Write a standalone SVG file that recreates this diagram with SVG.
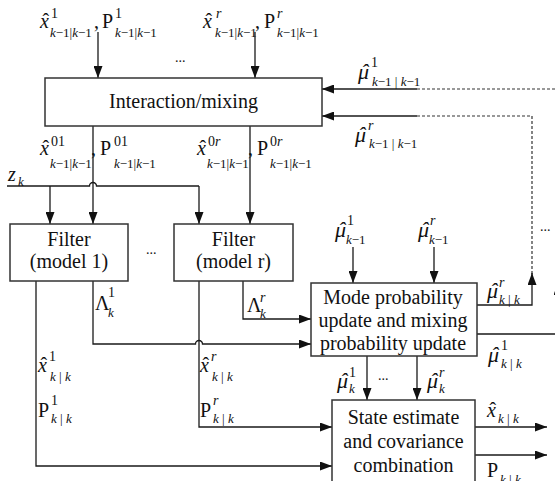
<svg xmlns="http://www.w3.org/2000/svg" width="555" height="481" viewBox="0 0 555 481">
<style>
.box{fill:#fff;stroke:#333;stroke-width:1.5}
.ln{fill:none;stroke:#1a1a1a;stroke-width:1.3}
.arr{marker-end:url(#ah)}
.dash{fill:none;stroke:#333;stroke-width:1.2;stroke-dasharray:3 2}
text{font-family:"Liberation Serif","Times New Roman",serif;fill:#111}
.bt{font-size:20px;text-anchor:middle}
.m{font-size:20px}
.mu{font-size:22px;font-style:italic}
.i{font-style:italic}
.s{font-size:13px}
.d{font-size:14px}
</style>
<defs>
<marker id="ah" markerUnits="userSpaceOnUse" markerWidth="12" markerHeight="9" refX="12" refY="4.5" orient="auto">
<path d="M0,0 L12,4.5 L0,9 z" fill="#111"/>
</marker>
</defs>

<g id="connectors">
<path class="ln arr" d="M98,32 V78"/>
<path class="ln arr" d="M255,32 V78"/>
<path class="dash" d="M417,89 H558"/>
<path class="ln arr" d="M417,89 H322"/>
<path class="dash" d="M417,116 H532 V280"/>
<path class="ln arr" d="M417,116 H322"/>
<path class="ln arr" d="M93,126 V224"/>
<path class="ln arr" d="M250,126 V224"/>
<path class="ln" d="M7,186 H89.5 A3.5,3.5 0 0 1 96.5,186 H199"/>
<path class="ln arr" d="M199,186 V224"/>
<path class="ln arr" d="M50,186 V224"/>
<path class="ln arr" d="M36,281 V466 H332"/>
<path class="ln arr" d="M93,281 V344 H195.5 A3.5,3.5 0 0 1 202.5,344 H311"/>
<path class="ln arr" d="M199,281 V427 H332"/>
<path class="ln arr" d="M243,281 V319 H311"/>
<path class="ln arr" d="M353,247 V283"/>
<path class="ln arr" d="M434,247 V283"/>
<path class="ln arr" d="M477,305 H532 V273"/>
<path class="ln arr" d="M477,334 H558 V283"/>
<path class="ln arr" d="M367,356 V400"/>
<path class="ln arr" d="M417,356 V400"/>
<path class="ln arr" d="M475,427 H547"/>
<path class="ln arr" d="M475,455 H547"/>
</g>

<g id="interaction">
<rect class="box" x="45" y="78" width="277" height="48"/>
<text class="bt" x="183.5" y="108">Interaction/mixing</text>
</g>
<g id="filter1">
<rect class="box" x="10" y="224" width="118" height="57"/>
<text class="bt" x="69" y="246">Filter</text>
<text class="bt" x="69" y="268">(model 1)</text>
</g>
<g id="filterr">
<rect class="box" x="174" y="224" width="119" height="57"/>
<text class="bt" x="233.5" y="246">Filter</text>
<text class="bt" x="233.5" y="268">(model r)</text>
</g>
<g id="mode">
<rect class="box" x="311" y="283" width="166" height="73"/>
<text class="bt" x="393" y="304">Mode probability</text>
<text class="bt" x="393" y="327">update and mixing</text>
<text class="bt" x="393" y="350">probability update</text>
</g>
<g id="combine">
<rect class="box" x="332" y="400" width="143" height="90"/>
<text class="bt" x="403.5" y="424">State estimate</text>
<text class="bt" x="403.5" y="448">and covariance</text>
<text class="bt" x="403.5" y="472">combination</text>
</g>

<g id="labels">
<!-- top left -->
<text class="m" x="42.5" y="28">ˆ</text>
<text class="m i" x="40" y="28">x</text>
<text class="d" x="51" y="18">1</text>
<text class="s" x="50" y="37"><tspan class="i">k</tspan>−1|<tspan class="i">k</tspan>−1</text>
<text class="m" x="94" y="28">,</text>
<text class="m" x="102" y="28">P</text>
<text class="d" x="115" y="18">1</text>
<text class="s" x="115" y="37"><tspan class="i">k</tspan>−1|<tspan class="i">k</tspan>−1</text>
<!-- top right -->
<text class="m" x="205.5" y="28">ˆ</text>
<text class="m i" x="203" y="28">x</text>
<text class="d i" x="216" y="18">r</text>
<text class="s" x="215" y="37"><tspan class="i">k</tspan>−1|<tspan class="i">k</tspan>−1</text>
<text class="m" x="255" y="28">,</text>
<text class="m" x="264" y="28">P</text>
<text class="d i" x="277" y="18">r</text>
<text class="s" x="277" y="37"><tspan class="i">k</tspan>−1|<tspan class="i">k</tspan>−1</text>
<text class="d" x="175" y="62">...</text>
<!-- mixed estimates -->
<text class="m" x="42.5" y="155">ˆ</text>
<text class="m i" x="40" y="155">x</text>
<text class="d" x="51" y="146">01</text>
<text class="s" x="50" y="168"><tspan class="i">k</tspan>−1|<tspan class="i">k</tspan>−1</text>
<text class="m" x="91" y="155">,</text>
<text class="m" x="100" y="155">P</text>
<text class="d" x="114" y="146">01</text>
<text class="s" x="114" y="168"><tspan class="i">k</tspan>−1|<tspan class="i">k</tspan>−1</text>
<text class="m" x="199.5" y="155">ˆ</text>
<text class="m i" x="197" y="155">x</text>
<text class="d" x="208" y="146">0<tspan class="i">r</tspan></text>
<text class="s" x="207" y="168"><tspan class="i">k</tspan>−1|<tspan class="i">k</tspan>−1</text>
<text class="m" x="248" y="155">,</text>
<text class="m" x="257" y="155">P</text>
<text class="d" x="270" y="146">0<tspan class="i">r</tspan></text>
<text class="s" x="270" y="168"><tspan class="i">k</tspan>−1|<tspan class="i">k</tspan>−1</text>
<!-- z_k -->
<text class="m i" x="8" y="181">z</text>
<text class="s i" x="18" y="186">k</text>
<text class="d" x="146" y="254">...</text>
<!-- mu inputs to interaction -->
<text class="mu" x="361" y="79">ˆ</text>
<text class="mu" x="358" y="79">μ</text>
<text class="d" x="371" y="67">1</text>
<text class="s" x="372" y="86"><tspan class="i">k</tspan>−1 | <tspan class="i">k</tspan>−1</text>
<text class="mu" x="358" y="142">ˆ</text>
<text class="mu" x="355" y="142">μ</text>
<text class="d i" x="368" y="130">r</text>
<text class="s" x="369" y="148"><tspan class="i">k</tspan>−1 | <tspan class="i">k</tspan>−1</text>
<!-- mu into mode -->
<text class="mu" x="338" y="237">ˆ</text>
<text class="mu" x="335" y="237">μ</text>
<text class="d" x="347" y="225">1</text>
<text class="s" x="346" y="244"><tspan class="i">k</tspan>−1</text>
<text class="mu" x="421" y="237">ˆ</text>
<text class="mu" x="418" y="237">μ</text>
<text class="d i" x="430" y="225">r</text>
<text class="s" x="429" y="244"><tspan class="i">k</tspan>−1</text>
<!-- Lambda -->
<text class="m" x="95" y="310">Λ</text>
<text class="d" x="108" y="297">1</text>
<text class="s i" x="108" y="317">k</text>
<text class="m" x="247" y="312">Λ</text>
<text class="d i" x="260" y="302">r</text>
<text class="s i" x="260" y="318">k</text>
<!-- filter outputs -->
<text class="m" x="40.5" y="372">ˆ</text>
<text class="m i" x="38" y="372">x</text>
<text class="d" x="49" y="361">1</text>
<text class="s" x="50" y="381"><tspan class="i">k</tspan> | <tspan class="i">k</tspan></text>
<text class="m" x="38" y="417">P</text>
<text class="d" x="51" y="405">1</text>
<text class="s" x="51" y="423"><tspan class="i">k</tspan> | <tspan class="i">k</tspan></text>
<text class="m" x="202.5" y="372">ˆ</text>
<text class="m i" x="200" y="372">x</text>
<text class="d i" x="211" y="361">r</text>
<text class="s" x="212" y="381"><tspan class="i">k</tspan> | <tspan class="i">k</tspan></text>
<text class="m" x="200" y="417">P</text>
<text class="d i" x="213" y="405">r</text>
<text class="s" x="213" y="423"><tspan class="i">k</tspan> | <tspan class="i">k</tspan></text>
<!-- mode outputs -->
<text class="mu" x="490" y="298">ˆ</text>
<text class="mu" x="487" y="298">μ</text>
<text class="d i" x="499" y="287">r</text>
<text class="s" x="499" y="304"><tspan class="i">k</tspan> | <tspan class="i">k</tspan></text>
<text class="mu" x="491" y="362">ˆ</text>
<text class="mu" x="488" y="362">μ</text>
<text class="d" x="501" y="350">1</text>
<text class="s" x="501" y="368"><tspan class="i">k</tspan> | <tspan class="i">k</tspan></text>
<text class="d" x="540" y="231">...</text>
<text class="mu" x="340" y="388">ˆ</text>
<text class="mu" x="337" y="388">μ</text>
<text class="d" x="349" y="377">1</text>
<text class="s i" x="349" y="393">k</text>
<text class="d" x="378" y="380">...</text>
<text class="mu" x="430" y="388">ˆ</text>
<text class="mu" x="427" y="388">μ</text>
<text class="d i" x="439" y="377">r</text>
<text class="s i" x="439" y="393">k</text>
<!-- final outputs -->
<text class="m" x="489.5" y="417">ˆ</text>
<text class="m i" x="487" y="417">x</text>
<text class="s" x="498" y="423"><tspan class="i">k</tspan> | <tspan class="i">k</tspan></text>
<text class="m" x="487" y="477">P</text>
<text class="s" x="500" y="484"><tspan class="i">k</tspan> | <tspan class="i">k</tspan></text>
</g>
</svg>
